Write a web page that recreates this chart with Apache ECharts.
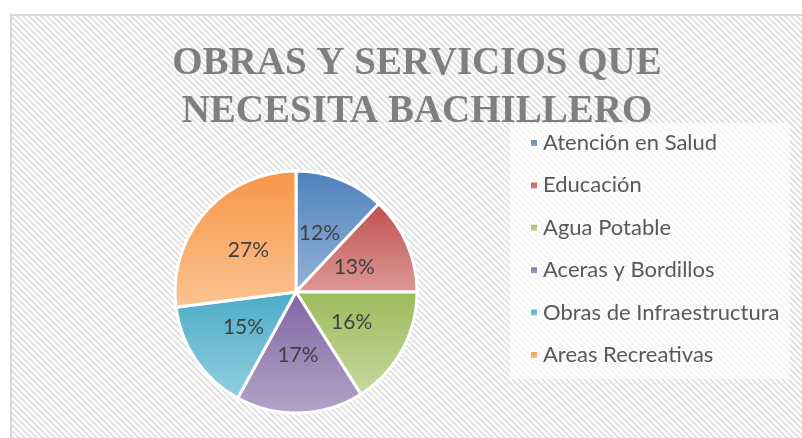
<!DOCTYPE html>
<html>
<head>
<meta charset="utf-8">
<script src="https://cdn.jsdelivr.net/npm/echarts@6/dist/echarts.min.js"></script>
<style>
  html, body { margin: 0; padding: 0; background: #fff; }
  #main { width: 802px; height: 438px; }
</style>
</head>
<body>
<div id="main"></div>
<script>
var categorias = ['Atención en Salud', 'Educación', 'Agua Potable', 'Aceras y Bordillos', 'Obras de Infraestructura', 'Areas Recreativas'];
var valores = [12, 13, 16, 17, 15, 27];
var coloresArriba = ['#4f81bd', '#c0504d', '#9bbb59', '#8064a2', '#4bacc6', '#f79646'];
var coloresAbajo = ['#95b3d7', '#dc9a98', '#c6d9a0', '#b4a4c9', '#93cfe0', '#fbc392'];

// textura rayada del fondo
var tile = document.createElement('canvas');
tile.width = 6; tile.height = 6;
var ctx = tile.getContext('2d');
ctx.fillStyle = '#ffffff';
ctx.fillRect(0, 0, 6, 6);
ctx.fillStyle = '#e3e3e3';
for (var y = 0; y < 6; y++) {
    for (var x = 0; x < 6; x++) {
        if (((x - y) % 6 + 6) % 6 < 3) ctx.fillRect(x, y, 1, 1);
    }
}

var datos = [];
for (var i = 0; i < categorias.length; i++) {
    datos.push({
        name: categorias[i],
        value: valores[i],
        itemStyle: {
            color: {
                type: 'linear', x: 0, y: 0, x2: 0, y2: 1,
                colorStops: [
                    {offset: 0, color: coloresArriba[i]},
                    {offset: 1, color: coloresAbajo[i]}
                ]
            }
        }
    });
}

var myChart = echarts.init(document.getElementById('main'));
var option = {
    backgroundColor: '#ffffff',
    animation: false,
    graphic: [{
        type: 'rect',
        z: -10,
        shape: {x: 11, y: 15, width: 820, height: 440},
        style: {fill: {image: tile, repeat: 'repeat'}, stroke: '#d9d9d9', lineWidth: 2}
    }],
    title: {
        text: 'OBRAS Y SERVICIOS QUE\nNECESITA BACHILLERO',
        left: 417,
        top: 40,
        textAlign: 'center',
        padding: 0,
        textStyle: {
            fontFamily: 'Liberation Serif',
            fontWeight: 'bold',
            fontSize: 39,
            lineHeight: 48,
            color: '#7f7f7f'
        }
    },
    legend: {
        orient: 'vertical',
        left: 510,
        top: 123,
        z: 10,
        padding: [9, 10, 13, 19],
        backgroundColor: 'rgba(255,255,255,0.68)',
        icon: 'rect',
        itemWidth: 8,
        itemHeight: 8,
        itemGap: 20.4,
        data: categorias,
        textStyle: {
            fontFamily: 'Lato',
            fontSize: 22,
            lineHeight: 20,
            color: '#595959'
        }
    },
    series: [{
        type: 'pie',
        center: [296, 292],
        radius: 121,
        startAngle: 90,
        clockwise: true,
        label: {
            position: 'inside',
            formatter: '{c}%',
            fontFamily: 'Lato',
            fontSize: 21,
            color: '#404040'
        },
        labelLine: {show: false},
        emphasis: {disabled: true},
        itemStyle: {borderColor: '#ffffff', borderWidth: 3},
        data: datos
    }]
};
myChart.setOption(option);
</script>
</body>
</html>
